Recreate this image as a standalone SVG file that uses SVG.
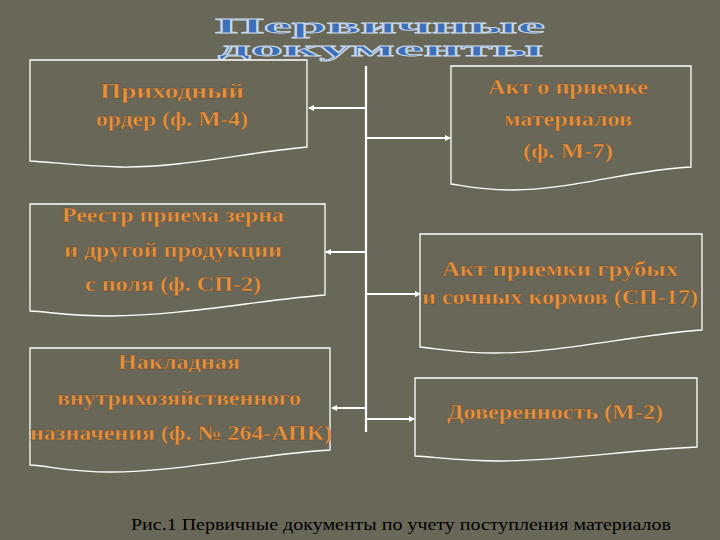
<svg xmlns="http://www.w3.org/2000/svg" width="720" height="540" viewBox="0 0 720 540">
<style>
.box{fill:none;stroke:#fff;stroke-width:1.3}
.t{font-family:"Liberation Serif",serif;font-weight:bold;font-size:21px;fill:#E8913A;text-anchor:middle;stroke:#5a4030;stroke-width:0.3}
.c{stroke:#fff;stroke-width:2.2;fill:none}
.title{font-family:"Liberation Serif",serif;font-weight:bold;font-size:22px;fill:#3D6FB8;stroke:#C8D8E8;stroke-width:0.8}
</style>
<defs>
<marker id="ah" markerWidth="6" markerHeight="6" refX="5" refY="3" orient="auto" markerUnits="userSpaceOnUse">
<path d="M0,0 L6,3 L0,6 Z" fill="#fff"/>
</marker>
</defs>
<rect width="720" height="540" fill="#696858"/>
<g id="title">
<text class="title" x="215" y="33" textLength="330" lengthAdjust="spacingAndGlyphs">Первичные</text>
<text class="title" x="218" y="56" textLength="325" lengthAdjust="spacingAndGlyphs">документы</text>
</g>
<g id="connectors">
<line class="c" x1="366" y1="66" x2="366" y2="432" stroke-width="1.5"/>
<line class="c" x1="366" y1="108" x2="309" y2="108" marker-end="url(#ah)"/>
<line class="c" x1="366" y1="138" x2="450" y2="138" marker-end="url(#ah)"/>
<line class="c" x1="366" y1="252" x2="326" y2="252" marker-end="url(#ah)"/>
<line class="c" x1="366" y1="294" x2="420" y2="294" marker-end="url(#ah)"/>
<line class="c" x1="366" y1="408" x2="332" y2="408" marker-end="url(#ah)"/>
<line class="c" x1="366" y1="419" x2="414" y2="419" marker-end="url(#ah)"/>
</g>
<g id="n1">
<path class="box" d="M30,60 H307 V147 C250,152 180,168 120,167 C80,166 50,162 30,161 Z"/>
<text class="t" x="172" y="98" textLength="144" lengthAdjust="spacingAndGlyphs">Приходный</text>
<text class="t" x="172" y="126" textLength="152" lengthAdjust="spacingAndGlyphs">ордер (ф. М-4)</text>
</g>
<g id="n2">
<path class="box" d="M451,66 H691 V167 C630,170 570,190 513,190 C480,190 465,186 451,184 Z"/>
<text class="t" x="568" y="94" textLength="160" lengthAdjust="spacingAndGlyphs">Акт о приемке</text>
<text class="t" x="568" y="126" textLength="128" lengthAdjust="spacingAndGlyphs">материалов</text>
<text class="t" x="568" y="158" textLength="90" lengthAdjust="spacingAndGlyphs">(ф. М-7)</text>
</g>
<g id="n3">
<path class="box" d="M30,204 H325 V295 C260,300 180,316 110,316 C70,316 50,312 30,311 Z"/>
<text class="t" x="173" y="222" textLength="222" lengthAdjust="spacingAndGlyphs">Реестр приема зерна</text>
<text class="t" x="173" y="257" textLength="218" lengthAdjust="spacingAndGlyphs">и другой продукции</text>
<text class="t" x="173" y="291" textLength="176" lengthAdjust="spacingAndGlyphs">с поля (ф. СП-2)</text>
</g>
<g id="n4">
<path class="box" d="M420,234 H702 V330 C640,334 560,353 496,353 C460,353 440,349 420,347 Z"/>
<text class="t" x="560" y="276" textLength="236" lengthAdjust="spacingAndGlyphs">Акт приемки  грубых</text>
<text class="t" x="560" y="304" textLength="276" lengthAdjust="spacingAndGlyphs">и сочных кормов (СП-17)</text>
</g>
<g id="n5">
<path class="box" d="M30,348 H330 V450 C260,454 180,472 110,472 C70,472 50,466 30,465 Z"/>
<text class="t" x="179" y="369" textLength="122" lengthAdjust="spacingAndGlyphs">Накладная</text>
<text class="t" x="179" y="405" textLength="244" lengthAdjust="spacingAndGlyphs">внутрихозяйственного</text>
<text class="t" x="181" y="440" textLength="302" lengthAdjust="spacingAndGlyphs">назначения (ф. № 264-АПК)</text>
</g>
<g id="n6">
<path class="box" d="M415,378 H697 V447 C630,450 560,461 500,461 C460,461 435,457 415,456 Z"/>
<text class="t" x="555" y="419" textLength="216" lengthAdjust="spacingAndGlyphs">Доверенность (М-2)</text>
</g>
<text x="131" y="530" textLength="540" lengthAdjust="spacingAndGlyphs" font-family="Liberation Serif, serif" font-size="17" fill="#000">Рис.1 Первичные документы по учету поступления материалов</text>
</svg>
